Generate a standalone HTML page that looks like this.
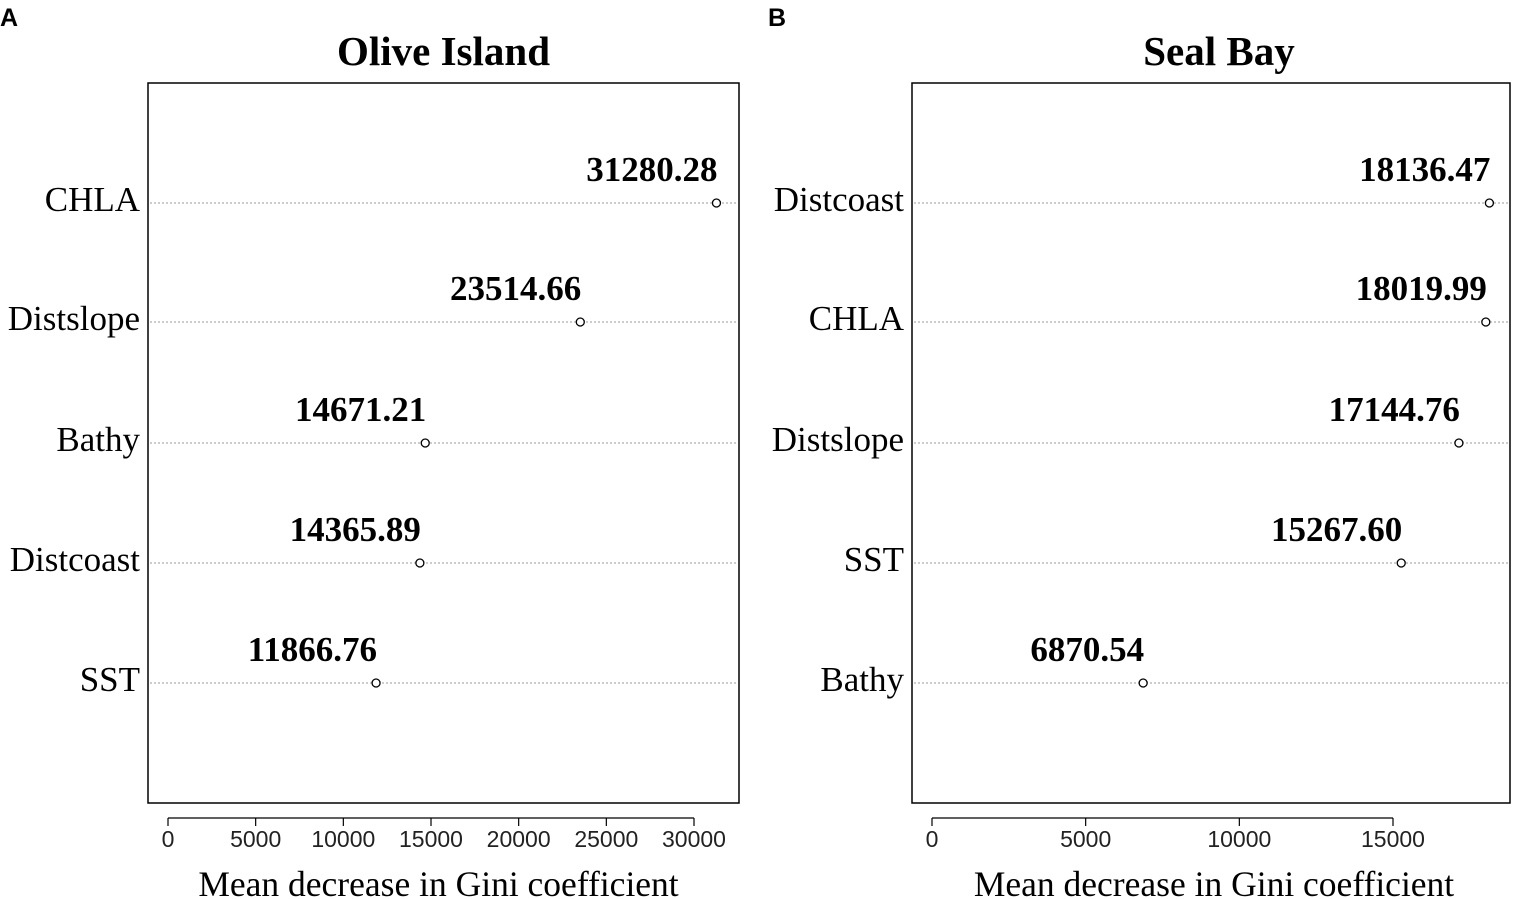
<!DOCTYPE html>
<html><head><meta charset="utf-8"><style>
body{margin:0;background:#fff;}
svg{display:block;}
.serif{font-family:"Liberation Serif",serif;}
.sans{font-family:"Liberation Sans",sans-serif;}
</style></head><body>
<svg id="chart" width="1514" height="899" viewBox="0 0 1514 899" xmlns="http://www.w3.org/2000/svg">
<text x="0" y="26" class="sans" font-weight="bold" font-size="25">A</text>
<text x="768" y="26" class="sans" font-weight="bold" font-size="25">B</text>
</svg>
<script>
const leftCategories = ["CHLA","Distslope","Bathy","Distcoast","SST"];
const leftValues = [31280.28,23514.66,14671.21,14365.89,11866.76];
const leftTicks = [0,5000,10000,15000,20000,25000,30000];
const rightCategories = ["Distcoast","CHLA","Distslope","SST","Bathy"];
const rightValues = [18136.47,18019.99,17144.76,15267.60,6870.54];
const rightTicks = [0,5000,10000,15000];

const NS="http://www.w3.org/2000/svg";
const svg=document.getElementById('chart');
function mk(tag,attrs,parent){const e=document.createElementNS(NS,tag);for(const k in attrs)e.setAttribute(k,attrs[k]);(parent||svg).appendChild(e);return e;}

function panel(cfg){
  const g=mk('g',{});
  
  
  const x=v=>cfg.x0+(v/cfg.refVal)*(cfg.xRef-cfg.x0);
  const rowY=[203,322,443,563,683];
  const t=mk('text',{x:(cfg.bx1+cfg.bx2)/2+cfg.shift,y:65,'text-anchor':'middle','font-size':41,'font-weight':'bold',class:'serif'},g);
  t.textContent=cfg.title;
  
  
  const box=mk('rect',{x:cfg.bx1,y:83,width:cfg.bx2-cfg.bx1,height:720,fill:'none',stroke:'#000','stroke-width':1.5},g);
  
  
  cfg.cats.forEach((c,i)=>{
    const y=rowY[i];
    const l=mk('line',{x1:cfg.bx1+2,x2:cfg.bx2-2,y1:y,y2:y,stroke:'#999','stroke-dasharray':'2,2','stroke-width':1},g);
    
    
    const lab=mk('text',{x:cfg.bx1-8,y:y+8,'text-anchor':'end','font-size':35,class:'serif'},g);
    lab.textContent=c;
    
    
    const px=x(cfg.vals[i]);
    const p=mk('circle',{cx:px,cy:y,r:4,fill:'#fff',stroke:'#000','stroke-width':1.3},g);
    
    
    const v=mk('text',{x:px+1,y:y-22,'text-anchor':'end','font-size':35,'font-weight':'bold',class:'serif'},g);
    v.textContent=cfg.vals[i].toFixed(2);
    
    
  });
  const ticks=cfg.ticks;
  const ax=mk('line',{x1:x(ticks[0]),x2:x(ticks[ticks.length-1]),y1:818,y2:818,stroke:'#000','stroke-width':1.2},g);
  
  
  ticks.forEach(tv=>{
    const tl=mk('line',{x1:x(tv),x2:x(tv),y1:818,y2:826,stroke:'#000','stroke-width':1.2},g);
    
    
    const tt=mk('text',{x:x(tv),y:847,'text-anchor':'middle','font-size':23,fill:'#222',class:'sans'},g);
    tt.textContent=tv;
    
    
  });
  const at=mk('text',{x:(cfg.bx1+cfg.bx2)/2-5+cfg.shift,y:896,'text-anchor':'middle','font-size':35.5,class:'serif'},g);
  at.textContent='Mean decrease in Gini coefficient';
  
  
}
panel({name:'olive-island-panel',title:'Olive Island',shift:0,bx1:148,bx2:739,x0:168,xRef:694,refVal:30000,cats:leftCategories,vals:leftValues,ticks:leftTicks});
panel({name:'seal-bay-panel',title:'Seal Bay',shift:8,bx1:912,bx2:1510,x0:932,xRef:1393,refVal:15000,cats:rightCategories,vals:rightValues,ticks:rightTicks});
</script>
</body></html>
